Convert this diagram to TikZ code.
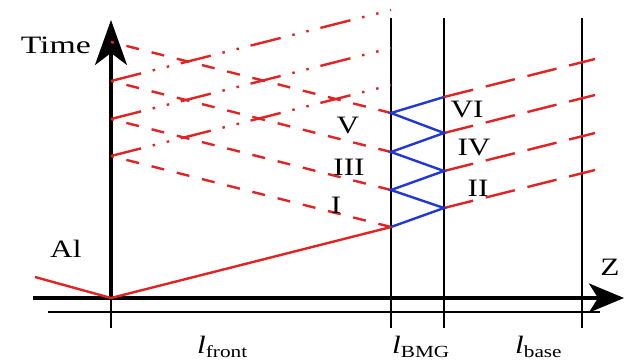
\documentclass[tikz,border=0pt]{standalone}
\usepackage{fontspec}
\setmainfont{Liberation Serif}
\usetikzlibrary{arrows.meta}
\definecolor{wred}{RGB}{225,35,35}
\definecolor{wblue}{RGB}{35,55,215}
\newcommand{\wide}[1]{\scalebox{1.25}[1]{#1}}
\newcommand{\sublen}[1]{\wide{\textit{l}\raisebox{-0.16em}{\fontsize{17}{17}\selectfont #1}}}
\begin{document}
\begin{tikzpicture}[x=1pt,y=-1pt,
  lbl/.style={font=\fontsize{25}{30}\selectfont, inner sep=0pt},
  axis/.style={line width=3.4pt},
  thinline/.style={line width=1.9pt},
  shock/.style={wred, line width=2.4pt},
  backwave/.style={wred, line width=2.4pt, dash pattern=on 13pt off 13pt},
  fwdwave/.style={wred, line width=2.4pt, dash pattern=on 30pt off 13pt},
  relwave/.style={wred, line width=2.4pt, dash pattern=on 31pt off 12pt on 2.5pt off 12pt on 2.5pt off 12pt},
  reverb/.style={wblue, line width=2.4pt, line join=miter}]
\useasboundingbox (0,0) rectangle (625,360);
% key points
\coordinate (O) at (111,298);
\coordinate (Tt) at (111,20);
\coordinate (K0) at (111,328);
\coordinate (Zs) at (33,298);
\coordinate (Ze) at (624,298);
\coordinate (Al0) at (35,277);
\coordinate (D0) at (48,312);
\coordinate (D1) at (600,312);
\coordinate (F1t) at (391,18); \coordinate (F1b) at (391,328);
\coordinate (F2t) at (444,18); \coordinate (F2b) at (444,328);
\coordinate (F3t) at (582,18); \coordinate (F3b) at (582,328);
% interface points
\coordinate (A0) at (391,227);
\coordinate (A1) at (391,190);
\coordinate (A2) at (391,152);
\coordinate (A3) at (391,113);
\coordinate (B1) at (444,208);
\coordinate (B2) at (444,171);
\coordinate (B3) at (444,133);
\coordinate (B4) at (444,97);
% free surface points
\coordinate (T1) at (111,156);
\coordinate (T2) at (111,119);
\coordinate (T3) at (111,81);
\coordinate (T4) at (111,42);
\coordinate (U1) at (391,85);
\coordinate (U2) at (391,48);
\coordinate (U3) at (391,10);
% base ends
\coordinate (R1) at (595,170);
\coordinate (R2) at (595,133);
\coordinate (R3) at (595,95);
\coordinate (R4) at (595,59);
% black structure
\draw[thinline] (F1t) -- (F1b);
\draw[thinline] (F2t) -- (F2b);
\draw[thinline] (F3t) -- (F3b);
\draw[line width=2.2pt] (D0) -- (D1);
\draw[thinline] (O) -- (K0);
\draw[axis, -{Stealth[length=35pt,width=29pt,inset=9pt]}] (Zs) -- (Ze);
\draw[axis, -{Stealth[length=45pt,width=32pt,inset=12pt]}] (O) -- (Tt);
% waves
\draw[shock] (Al0) -- (O) -- (A0);
\draw[backwave] (A0) -- (T1);
\draw[backwave] (A1) -- (T2);
\draw[backwave] (A2) -- (T3);
\draw[backwave] (A3) -- (T4);
\draw[relwave] (T1) -- (U1);
\draw[relwave] (T2) -- (U2);
\draw[relwave] (T3) -- (U3);
\draw[fwdwave] (B1) -- (R1);
\draw[fwdwave] (B2) -- (R2);
\draw[fwdwave] (B3) -- (R3);
\draw[fwdwave] (B4) -- (R4);
\draw[reverb] (A0) -- (B1) -- (A1) -- (B2) -- (A2) -- (B3) -- (A3) -- (B4);
% labels
\node[lbl, anchor=base east] (time) at (91,53) {\scalebox{1.35}[1]{Time}};
\node[lbl, anchor=base west] (al) at (50,257) {\wide{Al}};
\node[lbl, anchor=base] (lI) at (336,213) {\wide{I}};
\node[lbl, anchor=base] (lIII) at (349,175) {\wide{III}};
\node[lbl, anchor=base] (lV) at (348,133) {\wide{V}};
\node[lbl, anchor=base] (lVI) at (467,117) {\wide{VI}};
\node[lbl, anchor=base] (lIV) at (474,155) {\wide{IV}};
\node[lbl, anchor=base] (lII) at (478,196) {\wide{II}};
\node[lbl, anchor=base] (z) at (610,275) {\wide{Z}};
\node[lbl, anchor=base west] (lfront) at (197,353) {\sublen{front}};
\node[lbl, anchor=base west] (lbmg) at (392,353) {\sublen{BMG}};
\node[lbl, anchor=base west] (lbase) at (515,353) {\sublen{base}};
\end{tikzpicture}
\end{document}
